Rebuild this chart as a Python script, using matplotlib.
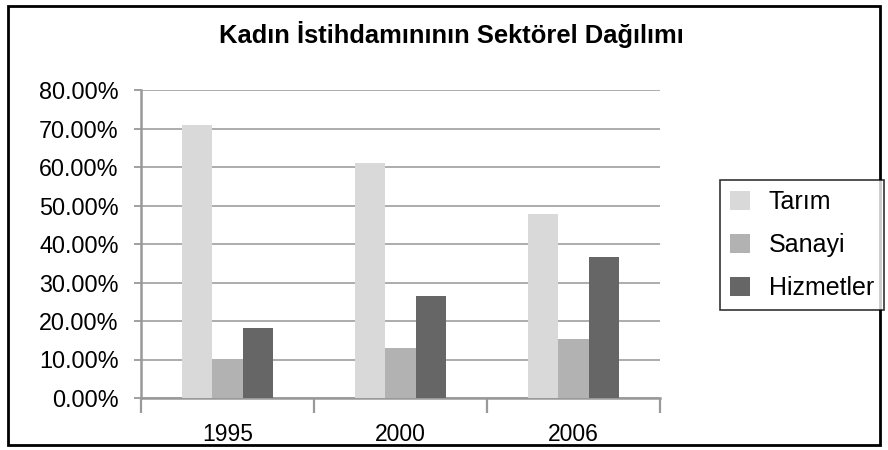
import numpy as np
import matplotlib.pyplot as plt
from matplotlib.patches import Rectangle
from matplotlib.ticker import FixedLocator, PercentFormatter

# data (percent)
years = ["1995", "2000", "2006"]
series_names = ["Tarım", "Sanayi", "Hizmetler"]
tarim = [70.8, 61.1, 47.9]
sanayi = [10.2, 12.9, 15.3]
hizmetler = [18.2, 26.6, 36.7]
y_ticks = [0, 10, 20, 30, 40, 50, 60, 70, 80]

colors = ["#d9d9d9", "#b2b2b2", "#666666"]
grid_col = "#a6a6a6"

plt.rcParams["font.family"] = ["Liberation Sans", "DejaVu Sans"]

fig = plt.figure(figsize=(8.88, 4.5), dpi=100)
ax = fig.add_axes([141 / 888, 1 - 398 / 450, (660 - 141) / 888, (398 - 90) / 450])

x = np.arange(len(years))
w = 0.175
for i, (vals, name) in enumerate(zip([tarim, sanayi, hizmetler], series_names)):
    ax.bar(x + (i - 1) * w, vals, w, color=colors[i], label=name, zorder=3)

ax.set_xlim(-0.5, len(years) - 0.5)
ax.set_ylim(0, 80)
ax.set_yticks(y_ticks)
ax.yaxis.set_major_formatter(PercentFormatter(decimals=2))
ax.grid(axis="y", color=grid_col, lw=1.3, zorder=0)
ax.set_axisbelow(True)

# category labels centred, ticks at category boundaries
ax.set_xticks(x)
ax.set_xticklabels(years)
ax.tick_params(axis="x", which="major", length=0, pad=18, labelsize=16.5)
ax.xaxis.set_minor_locator(FixedLocator(np.arange(-0.5, len(years), 1.0)))
ax.tick_params(axis="x", which="minor", length=11, width=1.6, color="#999999", direction="out")
ax.tick_params(axis="y", length=5, width=1.3, color="#999999", labelsize=16.8, pad=11)

for s in ["top", "right"]:
    ax.spines[s].set_visible(False)
for s in ["left", "bottom"]:
    ax.spines[s].set_color("#999999")
    ax.spines[s].set_linewidth(1.8)

fig.text(451 / 888, 1 - 35 / 450, "Kadın İstihdamınının Sektörel Dağılımı",
         ha="center", va="center", fontsize=18.4, fontweight="bold")

leg = fig.legend(loc="center", bbox_to_anchor=(802 / 888, 1 - 245 / 450),
                 fontsize=18, frameon=True, fancybox=False, edgecolor="black",
                 handlelength=0.8, handleheight=0.8, handletextpad=0.75,
                 labelspacing=0.75, borderpad=0.4, borderaxespad=0)
leg.get_frame().set_linewidth(1.2)

# outer frame of the chart area
fig.patches.append(Rectangle((8 / 888, 5 / 450), 872 / 888, 439 / 450,
                             transform=fig.transFigure, fill=False,
                             edgecolor="black", lw=2))

fig.savefig("out.png", dpi=100)
